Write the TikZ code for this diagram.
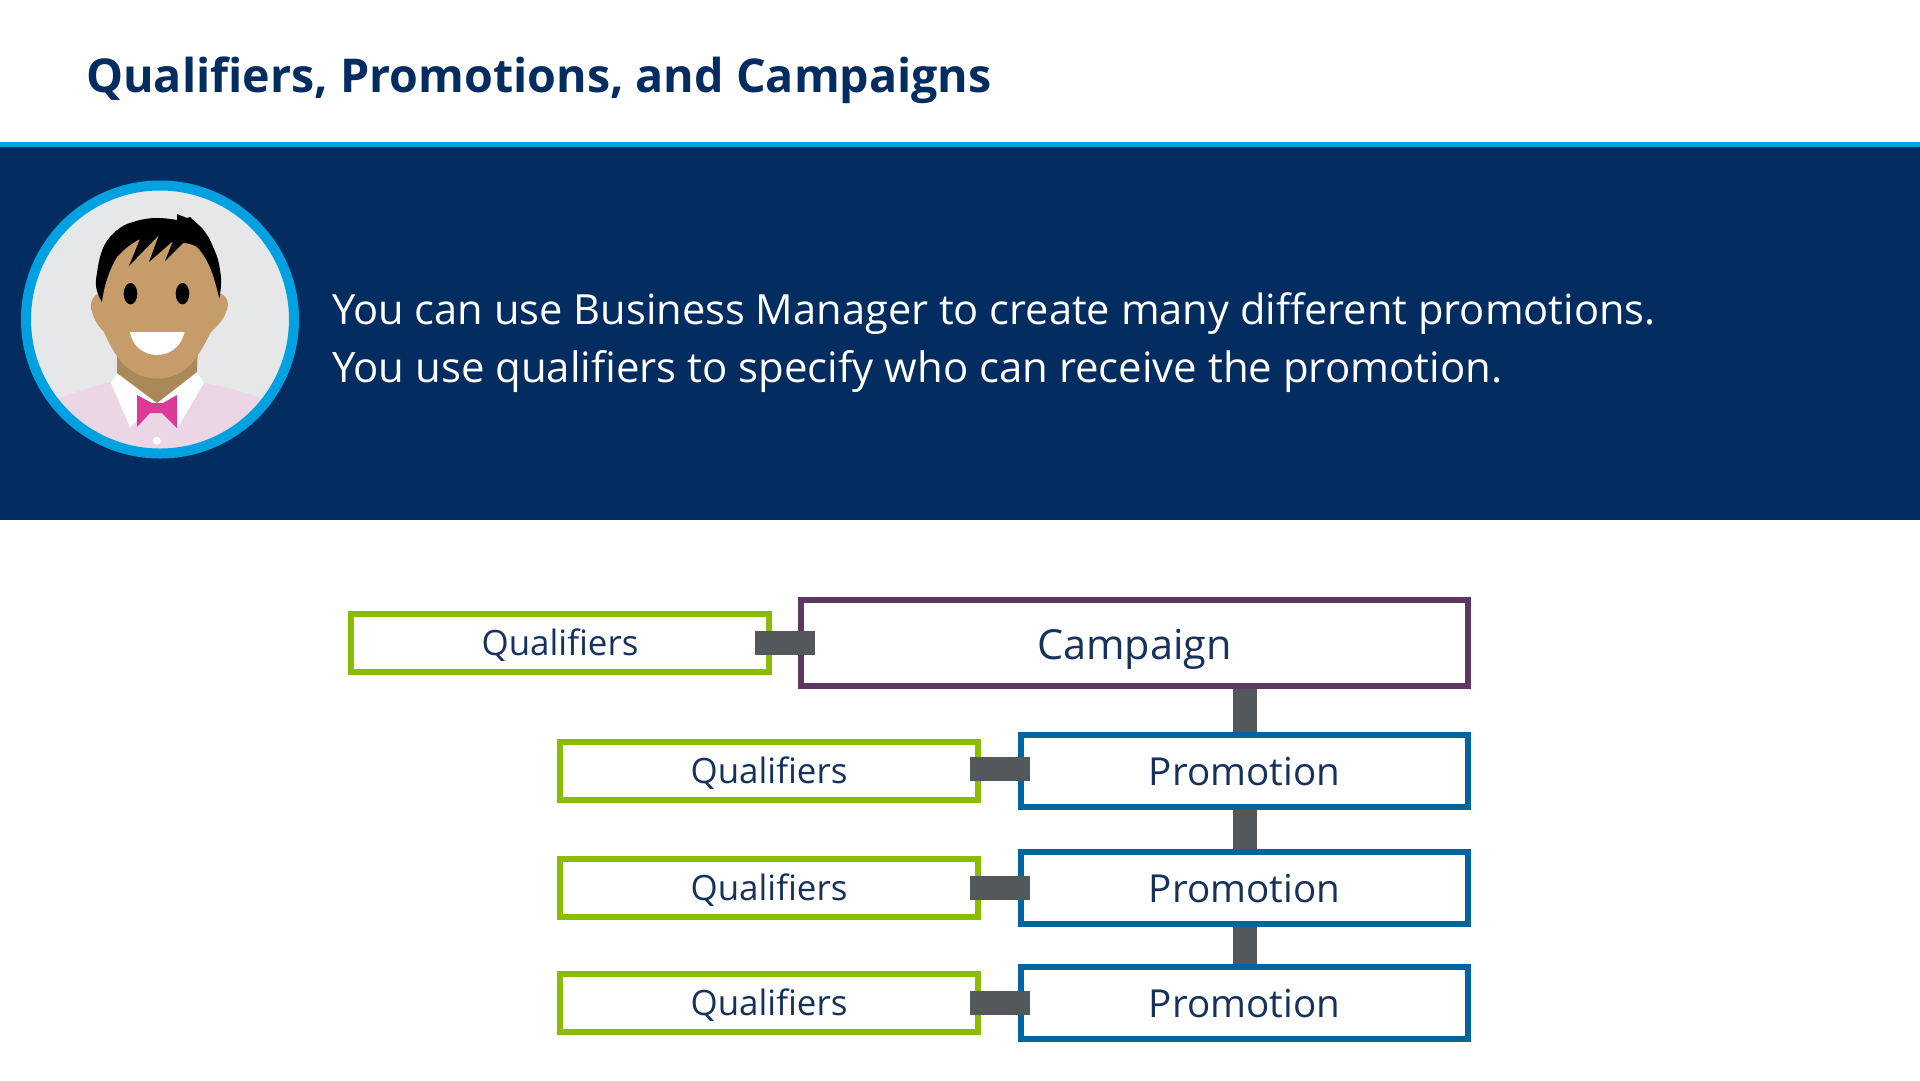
\documentclass[tikz,border=0pt]{standalone}
\usepackage{fontspec}
\setmainfont{Open Sans}
\usetikzlibrary{positioning}
\definecolor{navy}{HTML}{032D60}
\definecolor{skyline}{HTML}{00A1E0}
\definecolor{qualgreen}{HTML}{8ABD00}
\definecolor{camppurple}{HTML}{5F3562}
\definecolor{promoblue}{HTML}{00649E}
\definecolor{linkgray}{HTML}{54585A}
\definecolor{labelblue}{HTML}{16325C}
\definecolor{skin}{HTML}{C69C6A}
\definecolor{neck}{HTML}{A98958}
\definecolor{shirt}{HTML}{EBD6E5}
\definecolor{tie}{HTML}{DD3A96}
\definecolor{backdrop}{HTML}{E6E7E9}

\begin{document}
\begin{tikzpicture}[
    x=1pt, y=-1pt,
    labelbox/.style={draw, line width=6pt, fill=white, text=labelblue, anchor=center, inner sep=0pt, text depth=0pt},
    qual/.style={labelbox, draw=qualgreen, minimum width=418pt, minimum height=58pt, text height=25.4pt, font=\fontsize{34.9}{34.9}\selectfont},
    promo/.style={labelbox, draw=promoblue, minimum width=447pt, minimum height=72pt, text height=28pt, font=\fontsize{38.6}{38.6}\selectfont},
    camp/.style={labelbox, draw=camppurple, minimum width=667pt, minimum height=86pt, text height=32pt, font=\fontsize{41.4}{41.4}\selectfont},
    link/.style={draw=linkgray, line width=24pt},
    bodytext/.style={anchor=base west, inner sep=0pt, text=white}
  ]
\useasboundingbox (0,0) rectangle (1920,1080);

% Header and banner
\fill[navy] (0,142) rectangle (1920,520);
\fill[skyline] (0,142) rectangle (1920,147);
\node[anchor=base west, inner sep=0pt, text=navy, font=\bfseries\fontsize{46.6}{46.6}\selectfont] (title) at (86,92) {Qualifiers, Promotions, and Campaigns};
\node[bodytext, font=\fontsize{41.6}{41.6}\selectfont] (line1) at (332,324) {You can use Business Manager to create many different promotions.};
\node[bodytext, font=\fontsize{41.9}{41.9}\selectfont, below=58pt of line1.base west, anchor=base west] (line2) {You use qualifiers to specify who can receive the promotion.};

% Avatar
\begin{scope}
  \clip (160,319.5) circle (134);
  \fill[backdrop] (160,319.5) circle (134);
  % shirt
  \fill[shirt] (58,399) .. controls (75,392) and (95,386) .. (112,382) -- (204,383) .. controls (225,387) and (245,392) .. (260,398) -- (265,470) -- (55,470) -- cycle;
\end{scope}
\draw[skyline, line width=10pt] (160,319.5) circle (134);
% collar
\fill[white] (117,373) -- (111,383) -- (130,427) -- (157,403) -- (178,427) -- (204,383) -- (197,372) -- cycle;
% neck
\fill[neck] (117,345) -- (117,373) -- (157,403) -- (197,372) -- (198,345) -- cycle;
% face and ears
\fill[skin] (100,293) .. controls (92,295) and (89,305) .. (92,312) .. controls (95,322) and (100,328) .. (104,332) .. controls (112,350) and (125,378) .. (157,378.5) .. controls (190,378) and (200,352) .. (211,332) .. controls (218,325) and (226,318) .. (228,305) .. controls (228,298) and (224,294) .. (218,293) -- (212,255) -- (185,230) -- (130,230) -- (105,260) -- cycle;
% hair
\fill[black] (102,302) .. controls (95,290) and (95,283) .. (97,273) .. controls (99,258) and (102,246) .. (110,237) .. controls (118,228) and (125,224) .. (133,222) .. controls (142,219) and (150,218) .. (157,218) .. controls (165,218) and (171,219) .. (177,220) -- (177,214) -- (187,218) -- (190,217) -- (202,228) .. controls (207,234) and (211,241) .. (213,247) .. controls (217,255) and (219,262) .. (220,270) .. controls (222,280) and (221,290) .. (219.3,298.3) .. controls (216,285) and (213,273) .. (208,263) .. controls (204,255) and (200,250) .. (197,247) .. controls (192,244) and (187,243) .. (183,243) -- (165,261) -- (173,241) -- (149,262) -- (159,235) -- (129,266) -- (140,239) .. controls (132,243) and (124,249) .. (117,257) .. controls (110,268) and (104,285) .. (102,302) -- cycle;
% eyes, mouth, tie, button
\fill[black] (130.5,293.7) ellipse (6.8 and 10.7);
\fill[black] (182.5,293.7) ellipse (6.8 and 10.7);
\fill[white] (130,332) -- (184.5,332) .. controls (182,345) and (171,355) .. (157,355) .. controls (143,355) and (132,345) .. (130,332) -- cycle;
\fill[tie] (137,395) -- (152,403) -- (163,403) -- (177,395) -- (177,428) -- (162,413) -- (150,413) -- (137,427) -- cycle;
\fill[white] (156.7,440.7) circle (4);

% Diagram boxes
\node[camp] (campaign) at (1134.5,643) {Campaign};
\node[promo, below=43pt of campaign.south east, anchor=north east] (promo1) {Promotion};
\node[promo] (promo2) at (1244.5,888) {Promotion};
\node[promo] (promo3) at (1244.5,1003) {Promotion};
\node[qual] (qual0) at (560,643) {Qualifiers};
\node[qual] (qual1) at (769,770.5) {Qualifiers};
\node[qual] (qual2) at (769,888) {Qualifiers};
\node[qual] (qual3) at (769,1003) {Qualifiers};

% Connectors
\draw[link, shorten <=-17pt, shorten >=-17pt] (qual0.east) -- (campaign.west);
\foreach \i/\nudge in {1/2pt,2/0pt,3/0.5pt} {
    \draw[link, shorten <=-11pt, shorten >=-12pt] ([yshift=\nudge]qual\i.east) -- ([yshift=\nudge]qual\i.east -| promo\i.west);
}
\draw[link] (campaign.south -| promo1.north) -- (promo1.north);
\draw[link] (promo1) -- (promo2);
\draw[link] (promo2) -- (promo3);
\end{tikzpicture}
\end{document}
